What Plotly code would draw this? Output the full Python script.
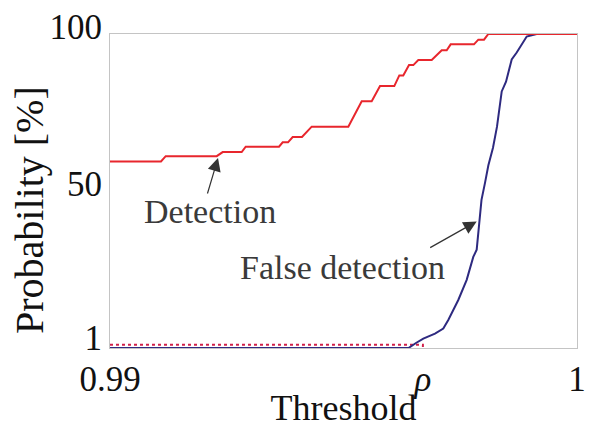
import plotly.graph_objects as go

# Detection probability vs. threshold (stepped curve)
det_threshold = [0.99000, 0.991092, 0.991193, 0.992285, 0.992413, 0.992820, 0.992906,
                 0.993619, 0.993698, 0.993812, 0.993912, 0.994111, 0.994319, 0.995103,
                 0.995390, 0.995604, 0.995782, 0.996088, 0.996195, 0.996280, 0.996403,
                 0.996495, 0.996602, 0.996889, 0.997103, 0.997210, 0.997295, 0.997794,
                 0.997887, 0.998009, 0.998101, 1.0]
det_prob = [59.4, 59.4, 61.1, 61.1, 62.4, 62.4, 64.1,
            64.1, 65.5, 65.5, 67.2, 67.2, 70.5, 70.5,
            78.6, 78.6, 83.4, 83.4, 86.8, 86.8, 90.1,
            90.1, 91.7, 91.7, 94.8, 94.8, 96.7, 96.7,
            98.2, 98.2, 100.0, 100.0]

# False detection probability vs. threshold
fd_threshold = [0.99000, 0.996392, 0.996552, 0.996709, 0.996959, 0.997137, 0.997244,
                0.997458, 0.997638, 0.997779, 0.997852, 0.997891, 0.997955, 0.998030,
                0.998101, 0.998201, 0.998287, 0.998388, 0.998480, 0.998602, 0.998709,
                0.998923, 0.999137, 1.0]
fd_prob = [0.0, 0.0, 1.6, 3.0, 4.6, 6.2, 8.9,
           15.3, 21.7, 29.0, 31.3, 37.6, 47.2, 52.6,
           58.1, 63.8, 70.5, 81.7, 84.8, 91.9, 94.1,
           99.2, 100.0, 100.0]

# Operating point: threshold rho where false detection reaches 1 %
rho = 0.99670
fd_limit = 1

x_tick_vals = [0.99, rho, 1.0]
x_tick_text = ["0.99", "<i>ρ</i>", "1"]
y_tick_vals = [1, 50, 100]
y_tick_text = ["1", "50", "100"]

serif = "Liberation Serif, Times New Roman, serif"

fig = go.Figure()

fig.add_trace(go.Scatter(
    x=[det_threshold[0], rho, rho], y=[fd_limit, fd_limit, 0],
    mode="lines", line=dict(color="#d0204a", width=2, dash="dot"),
    hoverinfo="skip", showlegend=False))

fig.add_trace(go.Scatter(
    x=fd_threshold, y=fd_prob, mode="lines",
    line=dict(color="#2e2a80", width=2), showlegend=False))

fig.add_trace(go.Scatter(
    x=det_threshold, y=det_prob, mode="lines",
    line=dict(color="#e8262d", width=2), showlegend=False))

# Labels with pointing arrows
fig.add_annotation(x=0.992313, y=60.5, ax=-11, ay=37, text="", showarrow=True,
                   arrowhead=2, arrowsize=2.2, arrowwidth=1.2, arrowcolor="#333333")
fig.add_annotation(x=0.992141, y=43.4, text="Detection", showarrow=False,
                   font=dict(family=serif, size=34, color="#3a3a3a"))
fig.add_annotation(x=0.997852, y=40.3, ax=-48, ay=27, text="", showarrow=True,
                   arrowhead=2, arrowsize=2.2, arrowwidth=1.2, arrowcolor="#333333")
fig.add_annotation(x=0.994989, y=25.5, text="False detection", showarrow=False,
                   font=dict(family=serif, size=34, color="#3a3a3a"))

# Vertical axis title, placed beside the tick labels
fig.add_annotation(xref="paper", yref="paper", x=-0.171, y=0.44,
                   xanchor="center", yanchor="middle", textangle=-90,
                   text="Probability [%]", showarrow=False,
                   font=dict(family=serif, size=40, color="#111111"))

fig.update_layout(
    width=589, height=428,
    margin=dict(l=110, r=12, t=34, b=80),
    plot_bgcolor="white", paper_bgcolor="white",
    font=dict(family=serif, size=35, color="#111111"),
    xaxis=dict(
        range=[0.99, 1.0], tickmode="array", tickvals=x_tick_vals, ticktext=x_tick_text,
        showgrid=False, zeroline=False, showline=True, mirror=True, automargin=False,
        linecolor="#c4c4c4", linewidth=1, ticks="",
        title=dict(text="Threshold", font=dict(size=36), standoff=0),
    ),
    yaxis=dict(
        range=[0, 100], tickmode="array", tickvals=y_tick_vals, ticktext=y_tick_text,
        showgrid=False, zeroline=False, showline=True, mirror=True, automargin=False,
        linecolor="#c4c4c4", linewidth=1, ticks="", ticklabelshift=-7,
    ),
)

fig.write_html("out.html")
